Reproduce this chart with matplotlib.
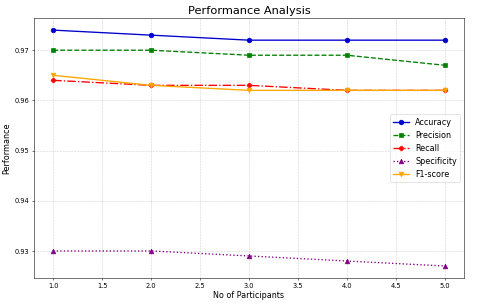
import matplotlib.pyplot as plt

# Données
participants = [1, 2, 3, 4, 5]
accuracy = [0.974, 0.973, 0.972, 0.972, 0.972]
precision = [0.970, 0.970, 0.969, 0.969, 0.967]
recall = [0.964, 0.963, 0.963, 0.962, 0.962]
specificity = [0.930, 0.930, 0.929, 0.928, 0.927]
f1_score = [0.965, 0.963, 0.962, 0.962, 0.962]

fig = plt.figure(figsize=(10, 6.42), dpi=48)
ax = fig.add_subplot(111)
fig.subplots_adjust(left=0.07, right=0.967, top=0.94, bottom=0.098)

ax.plot(participants, accuracy, color='mediumblue', marker='o', linestyle='-', linewidth=2, markersize=7, label='Accuracy')
ax.plot(participants, precision, color='green', marker='s', linestyle='--', linewidth=2, markersize=7, label='Precision')
ax.plot(participants, recall, color='red', marker='P', linestyle='-.', linewidth=2, markersize=7, label='Recall')
ax.plot(participants, specificity, color='purple', marker='^', linestyle=':', linewidth=2, markersize=7, label='Specificity')
ax.plot(participants, f1_score, color='orange', marker='v', linestyle='-', linewidth=2, markersize=7, label='F1-score')

ax.set_title('Performance Analysis', fontsize=17)
ax.set_xlabel('No of Participants', fontsize=12)
ax.set_ylabel('Performance', fontsize=12)
ax.set_yticks([0.93, 0.94, 0.95, 0.96, 0.97])
ax.set_yticklabels(['0.93', '0.94', '0.95', '0.96', '0.97'])
ax.tick_params(labelsize=10)
ax.grid(True, linestyle='--', alpha=0.6)
ax.legend(loc='center right', fontsize=12)

fig.savefig('out.png', dpi=48)
